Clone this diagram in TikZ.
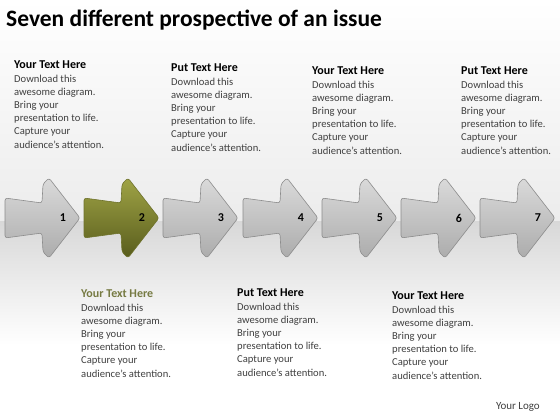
\documentclass[tikz,border=0pt]{standalone}
\usepackage{fontspec}
\setmainfont{Carlito}
\usetikzlibrary{calc}
\definecolor{bodytext}{RGB}{64,64,64}
\definecolor{olivetext}{RGB}{118,122,66}
\definecolor{greytop}{RGB}{218,218,218}
\definecolor{greybot}{RGB}{172,172,172}
\definecolor{greyedge}{RGB}{140,140,140}
\definecolor{olivetop}{RGB}{160,164,70}
\definecolor{olivebot}{RGB}{88,92,28}
\definecolor{oliveedge}{RGB}{110,114,44}
\definecolor{bgmid}{RGB}{236,236,236}
\definecolor{bgband}{RGB}{216,216,216}
\tikzstyle{greyarrow}=[draw=greyedge, line width=0.6pt, rounded corners=2.5pt, top color=greytop, bottom color=greybot]
\tikzstyle{olivearrow}=[draw=oliveedge, line width=0.6pt, rounded corners=2.5pt, top color=olivetop, bottom color=olivebot]
\tikzstyle{num}=[inner sep=0pt, font=\bfseries\fontsize{12}{12}\selectfont, text=black]
\tikzstyle{annot}=[align=left, anchor=north west, inner sep=0pt, font=\fontsize{10.6}{13.2}\selectfont, text=bodytext]
\newcommand{\bodytext}{Download this\\awesome diagram.\\Bring your\\presentation to life.\\Capture your\\audience's attention.}
\newcommand{\drawarrow}[3]
{
  \path[#2] (#1-75,198) -- (#1-38,203) -- (#1-37,184) -- (#1-31,178) -- (#1,218)
    -- (#1-31,258) -- (#1-37,252) -- (#1-38,233) -- (#1-75,238) -- cycle;
  \node[num] (n#3) at (#1-17,218) {#3};
}
\newcommand{\drawblock}[5]
{
  \node[annot] (#1) at (#2,#3) {{\fontsize{12}{13.2}\selectfont\bfseries\color{#5}#4}\\\bodytext};
}

\begin{document}
\begin{tikzpicture}[x=1pt,y=-1pt]
	\useasboundingbox (0,0) rectangle (560,420);

	% background
	\shade[top color=white, bottom color=bgmid] (0,0) rectangle (560,221);
	\shade[top color=bgband, bottom color=white] (0,221) rectangle (560,345);
	\fill[white] (0,345) rectangle (560,420);

	\node[anchor=north west, inner sep=0pt, font=\bfseries\fontsize{23.5}{23.5}\selectfont] (title) at (6,9.5) {Seven different prospective of an issue};

	\drawarrow{80}{greyarrow}{1}
	\drawarrow{159}{olivearrow}{2}
	\drawarrow{238}{greyarrow}{3}
	\drawarrow{318}{greyarrow}{4}
	\drawarrow{397}{greyarrow}{5}
	\drawarrow{476}{greyarrow}{6}
	\drawarrow{555}{greyarrow}{7}

	\drawblock{top1}{14}{61}{Your Text Here}{black}
	\drawblock{top2}{171}{64}{Put Text Here}{black}
	\drawblock{top3}{312}{67}{Your Text Here}{black}
	\drawblock{top4}{461}{67}{Put Text Here}{black}
	\drawblock{bot1}{81}{290}{Your Text Here}{olivetext}
	\drawblock{bot2}{237}{289}{Put Text Here}{black}
	\drawblock{bot3}{392}{292}{Your Text Here}{black}

	\node[anchor=north east, inner sep=0pt, font=\fontsize{11}{11}\selectfont, text=bodytext] (logo) at (540,402) {Your Logo};

\end{tikzpicture}
\end{document}
